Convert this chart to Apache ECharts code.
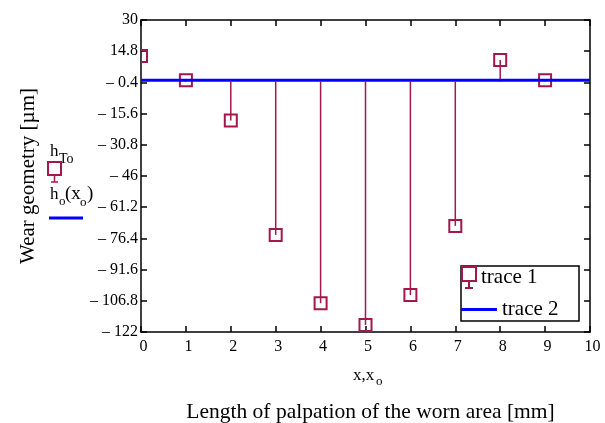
<!DOCTYPE html>
<html><head><meta charset="utf-8">
<script src="https://cdn.jsdelivr.net/npm/echarts@6/dist/echarts.min.js"></script>
<style>html,body{margin:0;padding:0;background:#fff}#c{width:605px;height:423px}</style>
</head><body><div id="c"></div>
<script>
// ---- data ----
const xPositions = [0, 1, 2, 3, 4, 5, 6, 7, 8, 9];
const trace1Values = [12.5, 0.6, -19, -74.7, -108, -118.6, -104, -70.3, 10.5, 0.6];
const trace2X = [0, 10];
const trace2Values = [0.6, 0.6];
const yMin = -122, yMax = 30, yInterval = 15.2;
const xMin = 0, xMax = 10, xInterval = 1;
const trace1Name = 'trace 1';
const trace2Name = 'trace 2';

// ---- style ----
const RED = '#a3174b';
const BLUE = '#0000ff';
const FONT = 'Liberation Serif';

function fmtY(v) {
  const r = Math.round(v * 10) / 10;
  return r < 0 ? '\u2013 ' + Math.abs(r) : String(r);
}

const chart = echarts.init(document.getElementById('c'), null, { renderer: 'canvas' });
const stemIcon = 'path://M0,0 L14,0 L14,14 L0,14 Z M7,14 L7,21 M3,21 L11,21';

const axisLineStyle = { color: '#000', width: 1.5 };
function frameAxis(pos, min, max, interval) {
  return {
    type: 'value', position: pos, min: min, max: max, interval: interval,
    axisLine: { show: true, onZero: false, lineStyle: axisLineStyle },
    axisTick: { show: true, inside: true, length: 6, lineStyle: axisLineStyle },
    splitLine: { show: false }, axisLabel: { show: false }
  };
}
const option = {
  animation: false,
  backgroundColor: '#fff',
  grid: { left: 141, top: 20, width: 449, height: 312, containLabel: false, outerBoundsMode: 'none' },
  xAxis: [
    {
      type: 'value', position: 'bottom', min: xMin, max: xMax, interval: xInterval,
      axisLine: { show: true, onZero: false, lineStyle: axisLineStyle },
      axisTick: { show: true, inside: true, length: 6, lineStyle: axisLineStyle },
      splitLine: { show: false },
      axisLabel: { fontFamily: FONT, fontSize: 16, color: '#000', margin: 7, padding: [0, 0, 0, 5] },
      name: 'Length of palpation of the worn area [mm]',
      nameLocation: 'middle', nameGap: 69,
      nameTextStyle: { fontFamily: FONT, fontSize: 21.5, color: '#000', padding: [0, 0, 0, 10] }
    },
    frameAxis('top', xMin, xMax, xInterval)
  ],
  yAxis: [
    {
      type: 'value', position: 'left', min: yMin, max: yMax, interval: yInterval,
      axisLine: { show: true, onZero: false, lineStyle: axisLineStyle },
      axisTick: { show: true, inside: true, length: 6, lineStyle: axisLineStyle },
      splitLine: { show: false },
      axisLabel: { fontFamily: FONT, fontSize: 16, color: '#000', margin: 3, formatter: fmtY },
      name: 'Wear geometry [\u00b5m]',
      nameLocation: 'middle', nameGap: 102, nameRotate: 90,
      nameTextStyle: { fontFamily: FONT, fontSize: 21, color: '#000' }
    },
    frameAxis('right', yMin, yMax, yInterval)
  ],
  legend: [
    {
      data: [{ name: trace1Name, icon: stemIcon }],
      left: 461, top: 266, padding: 0, itemWidth: 14, itemHeight: 22, itemGap: 3,
      itemStyle: { color: 'transparent', borderColor: RED, borderWidth: 2 },
      textStyle: { fontFamily: FONT, fontSize: 21, color: '#000', padding: [0, 0, 6, 0] },
      selectedMode: false
    },
    {
      data: [{ name: trace2Name, icon: 'rect' }],
      left: 461, top: 299, padding: 0, itemWidth: 36, itemHeight: 3, itemGap: 6,
      itemStyle: { color: BLUE },
      textStyle: { fontFamily: FONT, fontSize: 21, color: '#000' },
      selectedMode: false
    }
  ],
  graphic: [
    { type: 'rect', z: 3, shape: { x: 461, y: 266, width: 118, height: 55 },
      style: { fill: '#fff', stroke: '#000', lineWidth: 1.5 } },
    // left-side Mathcad labels
    { type: 'text', left: 50, top: 143, style: { text: 'h', font: '17px "Liberation Serif"', fill: '#000' } },
    { type: 'text', left: 59, top: 152, style: { text: 'To', font: '14px "Liberation Serif"', fill: '#000' } },
    { type: 'rect', shape: { x: 48, y: 162, width: 13, height: 13 }, style: { fill: 'none', stroke: RED, lineWidth: 2 } },
    { type: 'polyline', shape: { points: [[54.5, 175], [54.5, 182]] }, style: { stroke: RED, lineWidth: 1.5 } },
    { type: 'polyline', shape: { points: [[51, 182], [58, 182]] }, style: { stroke: RED, lineWidth: 1.5 } },
    { type: 'text', left: 50, top: 186, style: { text: 'h', font: '17px "Liberation Serif"', fill: '#000' } },
    { type: 'text', left: 59, top: 195, style: { text: 'o', font: '13px "Liberation Serif"', fill: '#000' } },
    { type: 'text', left: 65, top: 185, style: { text: '(x', font: '19px "Liberation Serif"', fill: '#000' } },
    { type: 'text', left: 80, top: 196, style: { text: 'o', font: '13px "Liberation Serif"', fill: '#000' } },
    { type: 'text', left: 87, top: 185, style: { text: ')', font: '19px "Liberation Serif"', fill: '#000' } },
    { type: 'polyline', shape: { points: [[49, 218], [83, 218]] }, style: { stroke: BLUE, lineWidth: 3 } },
    // x, x_o axis variable label
    { type: 'text', left: 353, top: 367, style: { text: 'x,x', font: '17px "Liberation Serif"', fill: '#000' } },
    { type: 'text', left: 376, top: 375, style: { text: 'o', font: '13px "Liberation Serif"', fill: '#000' } }
  ],
  series: [
    {
      type: 'custom', name: trace1Name, xAxisIndex: 0, yAxisIndex: 0,
      data: xPositions.map((x, i) => [x, trace1Values[i]]),
      clip: true, z: 2,
      renderItem: function (params, api) {
        const p0 = api.coord([api.value(0), 0]);
        const p1 = api.coord([api.value(0), api.value(1)]);
        const s = 12;
        return {
          type: 'group',
          children: [
            { type: 'line', shape: { x1: p0[0], y1: p0[1], x2: p1[0], y2: p1[1] },
              style: { stroke: RED, lineWidth: 1.5 } },
            { type: 'rect', shape: { x: p1[0] - s / 2, y: p1[1] - s / 2, width: s, height: s },
              style: { fill: 'none', stroke: RED, lineWidth: 2 } }
          ]
        };
      }
    },
    {
      type: 'line', name: trace2Name, xAxisIndex: 0, yAxisIndex: 0,
      data: trace2X.map((x, i) => [x, trace2Values[i]]),
      symbol: 'none', showSymbol: false, z: 3,
      lineStyle: { color: BLUE, width: 3 }, itemStyle: { color: BLUE }
    }
  ]
};
chart.setOption(option);
</script>
</body></html>
